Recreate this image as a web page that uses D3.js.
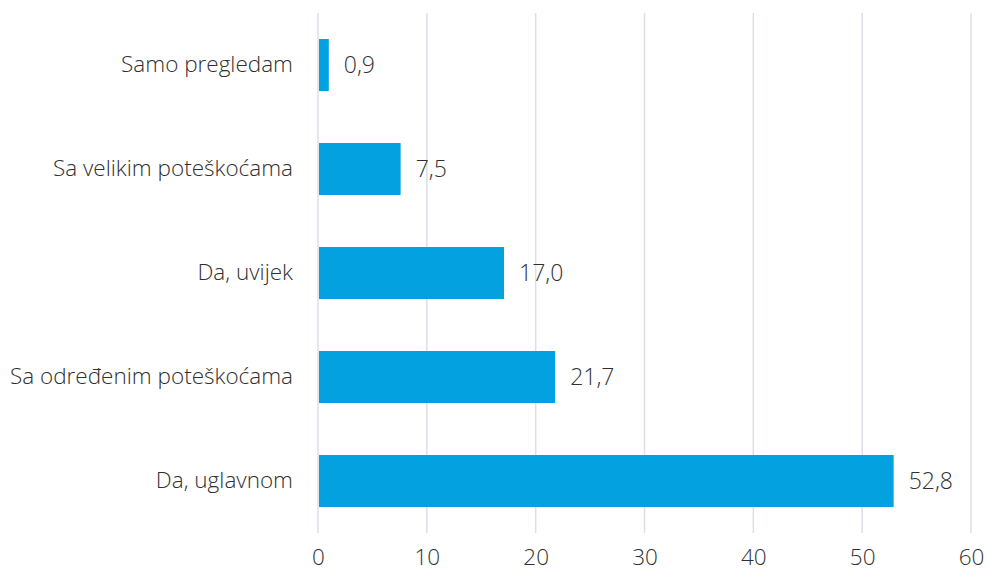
<!DOCTYPE html>
<html>
<head>
<meta charset="utf-8">
<script src="https://cdn.jsdelivr.net/npm/d3@7"></script>
<style>
  body { margin: 0; background: #fff; }
  svg text { font-family: "Open Sans", sans-serif; font-weight: 300; fill: #303030; }
</style>
</head>
<body>
<div id="chart"></div>
<script>
const categories = [
  "Samo pregledam",
  "Sa velikim poteškoćama",
  "Da, uvijek",
  "Sa određenim poteškoćama",
  "Da, uglavnom",
];
const values = [0.9, 7.5, 17.0, 21.7, 52.8];
const xTicks = [0, 10, 20, 30, 40, 50, 60];

const width = 987,
  height = 575;
const marginLeft = 318,
  marginRight = 16,
  marginTop = 13,
  marginBottom = 42;

const data = categories.map((c, i) => ({ name: c, value: values[i] }));

const svg = d3
  .select("#chart")
  .append("svg")
  .attr("width", width)
  .attr("height", height);

const xScale = d3
  .scaleLinear()
  .domain([0, 60])
  .range([marginLeft, width - marginRight]);

const yScale = d3
  .scaleBand()
  .domain(categories)
  .range([marginTop, height - marginBottom])
  .paddingInner(0.5)
  .paddingOuter(0.25);

// vertical gridlines
svg
  .append("g")
  .selectAll("line")
  .data(xTicks)
  .enter()
  .append("line")
  .attr("x1", (d) => xScale(d))
  .attr("x2", (d) => xScale(d))
  .attr("y1", marginTop)
  .attr("y2", height - marginBottom)
  .attr("stroke", "#dadfe8")
  .attr("stroke-width", 1.5);

// bars
svg
  .append("g")
  .selectAll("rect")
  .data(data)
  .enter()
  .append("rect")
  .attr("x", xScale(0) + 1)
  .attr("y", (d) => yScale(d.name))
  .attr("width", (d) => xScale(d.value) - xScale(0))
  .attr("height", yScale.bandwidth())
  .attr("fill", "#03a1e0");

// value labels
svg
  .append("g")
  .selectAll("text")
  .data(data)
  .enter()
  .append("text")
  .attr("x", (d) => xScale(d.value) + 16)
  .attr("y", (d) => yScale(d.name) + yScale.bandwidth() / 2)
  .attr("dy", "0.35em")
  .attr("font-size", 23)
  .text((d) => d3.format(".1f")(d.value).replace(".", ","));

// category axis
const yAxis = d3.axisLeft(yScale).tickSize(0).tickPadding(25);
const yG = svg
  .append("g")
  .attr("transform", `translate(${marginLeft},0)`)
  .call(yAxis);
yG.select(".domain").remove();
yG.selectAll("text").attr("font-size", 22.5).attr("font-family", null);

// value axis
const xAxis = d3.axisBottom(xScale).tickValues(xTicks).tickSize(0).tickPadding(16);
const xG = svg
  .append("g")
  .attr("transform", `translate(0,${height - marginBottom})`)
  .call(xAxis);
xG.select(".domain").remove();
xG.selectAll("text").attr("font-size", 22.5).attr("font-family", null);
</script>
</body>
</html>
